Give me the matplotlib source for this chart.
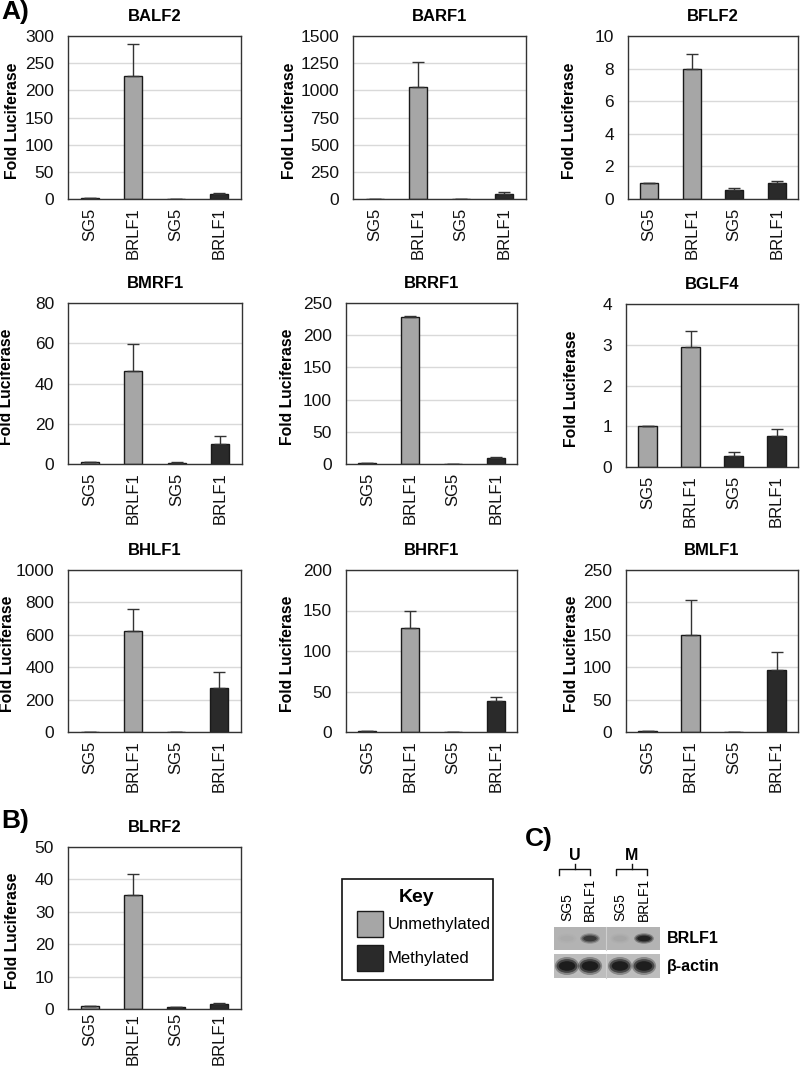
import matplotlib
matplotlib.use("Agg")
import matplotlib.pyplot as plt
from matplotlib.patches import Rectangle, Ellipse

plt.rcParams['font.family'] = ['Liberation Sans', 'DejaVu Sans']

W, H = 800, 1066  # figure size in pixels

# Data (fold luciferase, mean and upper error)
categories = ["SG5", "BRLF1", "SG5", "BRLF1"]
genes = ["BALF2", "BARF1", "BFLF2", "BMRF1", "BRRF1",
         "BGLF4", "BHLF1", "BHRF1", "BMLF1", "BLRF2"]

BALF2_vals = [1, 227, 0.5, 9]
BALF2_err = [0, 58, 0, 2]
BARF1_vals = [1, 1035, 1, 45]
BARF1_err = [0, 225, 0, 15]
BFLF2_vals = [1, 7.95, 0.55, 1.0]
BFLF2_err = [0, 0.95, 0.1, 0.12]
BMRF1_vals = [1, 46, 0.7, 10]
BMRF1_err = [0, 13.5, 0.2, 4]
BRRF1_vals = [1, 228, 0.5, 9]
BRRF1_err = [0, 1.5, 0, 1.5]
BGLF4_vals = [1, 2.95, 0.28, 0.75]
BGLF4_err = [0, 0.38, 0.08, 0.18]
BHLF1_vals = [1, 622, 1, 270]
BHLF1_err = [0, 140, 0, 100]
BHRF1_vals = [1, 129, 0.5, 38]
BHRF1_err = [0, 21, 0, 5]
BMLF1_vals = [1, 149, 0.5, 95]
BMLF1_err = [0, 54, 0, 29]
BLRF2_vals = [1, 35.3, 0.6, 1.5]
BLRF2_err = [0, 6.5, 0.1, 0.4]

values = [BALF2_vals, BARF1_vals, BFLF2_vals, BMRF1_vals, BRRF1_vals,
          BGLF4_vals, BHLF1_vals, BHRF1_vals, BMLF1_vals, BLRF2_vals]
errors = [BALF2_err, BARF1_err, BFLF2_err, BMRF1_err, BRRF1_err,
          BGLF4_err, BHLF1_err, BHRF1_err, BMLF1_err, BLRF2_err]
y_max = [300, 1500, 10, 80, 250, 4, 1000, 200, 250, 50]
y_step = [50, 250, 2, 20, 50, 1, 200, 50, 50, 10]

# Western blot band intensities (0 = none, 1 = strong)
blot_rows = ["BRLF1", "β-actin"]
brlf1_band = [0.02, 0.6, 0.04, 0.85]
actin_band = [0.95, 0.95, 0.92, 0.9]

# Layout (pixels: left, top, right, bottom)
boxes = [(68, 36, 241, 199), (353, 36, 526, 199), (628, 36, 798, 199),
         (68, 303, 242, 464), (346, 303, 517, 464), (626, 304, 798, 467),
         (68, 570, 241, 732), (346, 570, 517, 732), (626, 570, 798, 732),
         (68, 847, 241, 1009)]
ylabel_x = [13, 290, 570, 7, 288, 571, 8, 287, 571, 13]
xtick_pad = [6, 6, 6, 6, 6, 6, 6, 6, 6, 3]

light = '#a6a6a6'
dark = '#2a2a2a'
bar_colors = [light, light, dark, dark]

fig = plt.figure(figsize=(W / 100, H / 100), dpi=100)

# overlay axes in pixel coordinates for key, blot and brackets
ov = fig.add_axes([0, 0, 1, 1])
ov.set_xlim(0, W)
ov.set_ylim(H, 0)
ov.axis('off')

for i, g in enumerate(genes):
    l, t, r, b = boxes[i]
    ax = fig.add_axes([l / W, 1 - b / H, (r - l) / W, (b - t) / H])
    x = list(range(len(categories)))
    ax.bar(x, values[i], width=0.42, color=bar_colors, edgecolor='#1a1a1a',
           linewidth=1, zorder=2)
    ax.errorbar(x, values[i], yerr=[[0] * 4, errors[i]], fmt='none',
                ecolor='#333333', elinewidth=1, capsize=4, capthick=1, zorder=3)
    ax.set_xlim(-0.5, 3.5)
    ax.set_ylim(0, y_max[i])
    ax.set_yticks(range(0, y_max[i] + 1, y_step[i]))
    ax.set_xticks(x)
    ax.set_xticklabels(categories, rotation=90)
    ax.tick_params(axis='both', length=0, colors='#111111')
    ax.tick_params(axis='y', pad=10, labelsize=12.5)
    ax.tick_params(axis='x', pad=xtick_pad[i], labelsize=12)
    ax.yaxis.grid(True, color='#d9d9d9', linewidth=1)
    ax.set_axisbelow(True)
    for s in ax.spines.values():
        s.set_color('#333333')
        s.set_linewidth(1)
    ax.set_title(g, fontsize=12, fontweight='bold', pad=11)
    fig.text(ylabel_x[i] / W, 1 - ((t + b) / 2 + 3) / H, "Fold Luciferase",
             rotation=90, ha='center', va='center', fontsize=11.3,
             fontweight='bold')

# panel letters
fig.text(1 / W, 1 - 12 / H, "A)", fontsize=19, fontweight='bold', va='center')
fig.text(1 / W, 1 - 821 / H, "B)", fontsize=19, fontweight='bold', va='center')
fig.text(525 / W, 1 - 839 / H, "C)", fontsize=19, fontweight='bold', va='center')

# Key box
ov.add_patch(Rectangle((342, 879), 151, 101, fill=False, edgecolor='#111111', lw=1.2))
ov.text(417, 898, "Key", fontsize=14, fontweight='bold', ha='center', va='center')
ov.add_patch(Rectangle((357, 911), 26, 26, facecolor=light, edgecolor='#1a1a1a', lw=1))
ov.add_patch(Rectangle((357, 945), 26, 26, facecolor=dark, edgecolor='#1a1a1a', lw=1))
ov.text(388, 925, "Unmethylated", fontsize=12, ha='left', va='center')
ov.text(388, 959, "Methylated", fontsize=12, ha='left', va='center')

# Western blot
lane_x = [567, 590, 620, 644]
strips = [(927, 950), (954, 978)]
strip_colors = ['#b3b3b3', '#bdbdbd']
for (y0, y1), c in zip(strips, strip_colors):
    ov.add_patch(Rectangle((554, y0), 106, y1 - y0, facecolor=c, edgecolor='none'))
    ov.plot([606, 606], [y0, y1], color='#cfcfcf', lw=0.8)
band_sets = [brlf1_band, actin_band]
band_h = [7, 12]
band_w = [18, 22]
for row, bands in enumerate(band_sets):
    yc = (strips[row][0] + strips[row][1]) / 2
    for xc, v in zip(lane_x, bands):
        for sw, sh, a in [(1.1, 1.5, 0.35), (0.95, 1.15, 0.6), (0.75, 0.8, 0.9)]:
            ov.add_patch(Ellipse((xc, yc), band_w[row] * sw, band_h[row] * sh,
                                 facecolor='#151515', edgecolor='none', alpha=a * v))
for row, name in enumerate(blot_rows):
    yc = (strips[row][0] + strips[row][1]) / 2
    ov.text(667, yc, name, fontsize=11.5, fontweight='bold', ha='left', va='center')
for xc, lab in zip(lane_x, categories):
    ov.text(xc, 921, lab, rotation=90, fontsize=10, ha='center', va='bottom')

# brackets U / M
for (x0, x1), lab in zip([(559, 590), (616, 647)], ["U", "M"]):
    xm = (x0 + x1) / 2
    ov.plot([x0, x0, x1, x1], [875, 869, 869, 875], color='#111111', lw=1)
    ov.plot([xm, xm], [869, 864], color='#111111', lw=1)
    ov.text(xm, 855, lab, fontsize=11.5, fontweight='bold', ha='center', va='center')

fig.savefig("out.png", dpi=100)
